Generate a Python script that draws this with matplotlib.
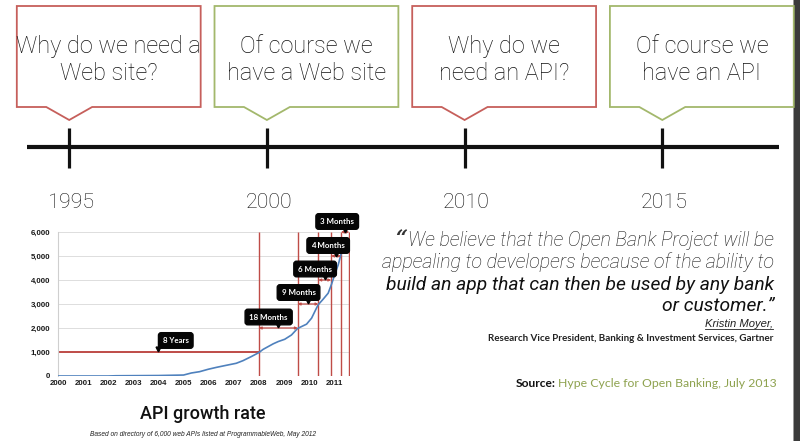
import matplotlib
matplotlib.use('Agg')
import matplotlib.pyplot as plt
from matplotlib.patches import Polygon, Rectangle
import warnings
warnings.filterwarnings('ignore')

# ---------------- data ----------------
era_years = ['1995', '2000', '2010', '2015']
era_line1 = ['Why do we need a', 'Of course we', 'Why do we', 'Of course we']
era_line2 = ['Web site?', 'have a Web site', 'need an API?', 'have an API']
era_kind = ['question', 'answer', 'question', 'answer']

api_years = [2000.0, 2002.0, 2002.3, 2004.0, 2005.0, 2005.31, 2005.64, 2005.98, 2006.31,
             2006.7, 2007.1, 2007.37, 2007.7, 2008.0, 2008.17, 2008.37, 2008.57, 2008.77,
             2009.03, 2009.3, 2009.54, 2009.7, 2009.9, 2010.1, 2010.23, 2010.36, 2010.56,
             2010.76, 2010.9, 2011.02, 2011.16, 2011.29, 2011.42, 2011.51]
api_counts = [0, 0, 10, 20, 40, 125, 180, 280, 360,
              445, 530, 640, 810, 975, 1110, 1225, 1340, 1435,
              1530, 1710, 1980, 2060, 2160, 2410, 2690, 2965, 3200,
              3450, 3840, 4220, 4630, 5150, 5375, 5610]

milestone_years = [2000.0, 2008.0, 2009.55, 2010.37, 2010.88, 2011.27, 2011.6]
milestone_levels = [1000, 2000, 3000, 4000, 5000, 6000]
milestone_labels = ['8 Years', '18 Months', '9 Months', '6 Months', '4 Months', '3 Months']
label_years = [2004.69, 2008.39, 2009.58, 2010.24, 2010.76, 2011.12]
label_values = [1480, 2458, 3479, 4458, 5438, 6438]

y_ticks = [0, 1000, 2000, 3000, 4000, 5000, 6000]
x_ticks = list(range(2000, 2012))

quote_lines = ['We believe that the Open Bank Project will be',
               'appealing to developers because of the ability to',
               'build an app that can then be used by any bank',
               'or customer.\u201d']
quote_author = 'Kristin Moyer,'
quote_role = 'Research Vice President, Banking & Investment Services, Gartner'
source_label = 'Source:'
source_text = 'Hype Cycle for Open Banking, July 2013'
chart_title = 'API growth rate'
chart_caption = 'Based on directory of 6,000 web APIs listed at ProgrammableWeb, May 2012'

# ---------------- style ----------------
RED = '#c65f5b'
GREEN = '#a3b86c'
LINE_RED = '#bf4c47'
BLUE = '#4f81bd'
SRC_GREEN = '#8ea24f'
LIGHT = ['Roboto', 'DejaVu Sans']
HUMAN = ['Lato', 'DejaVu Sans']
ARIAL = ['Liberation Sans', 'DejaVu Sans']

fig = plt.figure(figsize=(8, 4.41), dpi=100)
fig.patch.set_facecolor('white')
renderer = fig.canvas.get_renderer()


def fit(t, target_px):
    w = t.get_window_extent(renderer).width
    t.set_fontsize(t.get_fontsize() * target_px / w)
    return t


def fitted_size(text, target_px, **kw):
    probe = fig.text(0.5, 0.5, text, fontsize=10, **kw)
    w = probe.get_window_extent(renderer).width
    probe.remove()
    return 10 * target_px / w

# background axes in pixel coordinates
bg = fig.add_axes([0, 0, 1, 1])
bg.set_xlim(0, 800)
bg.set_ylim(441, 0)
bg.axis('off')

# dark border on the right
bg.add_patch(Rectangle((794, 0), 6, 441, facecolor='#3b3b3b', edgecolor='none'))
bg.add_patch(Rectangle((792.5, 0), 1.5, 441, facecolor='#9a9a9a', edgecolor='none'))

# ---------------- timeline ----------------
tl = fig.add_axes([0, 0, 1, 1])
tl.patch.set_alpha(0)
a, b = 69.2, 197.7
tl.set_xlim(-a / b, (800 - a) / b)
tl.set_ylim(441, 0)
tl.axis('off')

idx = list(range(len(era_years)))
tl.plot([-0.213, 3.59], [147, 147], color='#111111', lw=3.0, solid_capstyle='butt')
year_fs = fitted_size('1995', 47, family=LIGHT, fontweight='light')
for i in idx:
    tl.plot([i, i], [128, 168], color='#111111', lw=2.3, solid_capstyle='butt')
    tl.text(i + 0.01, 208, era_years[i], ha='center', va='baseline',
            fontsize=year_fs, family=LIGHT, fontweight='light', color='#111111')

half_w = 0.465
off = 0.2
box_fs = fitted_size('have a Web site', 160, family=LIGHT, fontweight='light')
for i in idx:
    c = i + off
    col = RED if era_kind[i] == 'question' else GREEN
    verts = [(c - half_w, 6), (c + half_w, 6), (c + half_w, 107), (i + 0.116, 107),
             (i, 120), (i - 0.116, 107), (c - half_w, 107)]
    tl.add_patch(Polygon(verts, closed=True, facecolor='white', edgecolor=col, lw=1.3))
    for yb, txt in ((53, era_line1[i]), (80, era_line2[i])):
        tl.text(c, yb, txt, ha='center', va='baseline', fontsize=box_fs,
                family=LIGHT, fontweight='light', color='#111111')

# ---------------- chart ----------------
x0p, x1p, y0p, y1p = 58, 350, 376, 232
ax = fig.add_axes([x0p / 800, (441 - y0p) / 441, (x1p - x0p) / 800, (y0p - y1p) / 441])
ax.patch.set_alpha(0)
ax.set_xlim(2000, 2011.63)
ax.set_ylim(0, 6000)
for s in ['top', 'right', 'bottom']:
    ax.spines[s].set_visible(False)
ax.spines['left'].set_color('#cfcfcf')
ax.spines['left'].set_linewidth(0.8)
tick_fs = fitted_size('2000', 17.5, family=ARIAL, fontweight='bold')
tick_kw = dict(fontsize=tick_fs, fontweight='bold', family=ARIAL, color='#1a1a1a')
ax.set_yticks(y_ticks)
ax.set_yticklabels([f'{v:,}' for v in y_ticks], **tick_kw)
ax.set_xticks(x_ticks)
ax.set_xticklabels([str(v) for v in x_ticks], **tick_kw)
ax.tick_params(axis='both', length=0)
ax.tick_params(axis='y', pad=5.5)
ax.tick_params(axis='x', pad=3.0)
ax.grid(axis='y', color='#dddddd', lw=0.7)
ax.set_axisbelow(True)

ax.plot(api_years, api_counts, color=BLUE, lw=1.2, zorder=3)
ax.vlines(milestone_years[1:], 0, 6000, color=LINE_RED, lw=1.0, zorder=2)
ax.plot([milestone_years[0], milestone_years[1]], [milestone_levels[0]] * 2,
        color=LINE_RED, lw=1.4, zorder=2)
for k in range(1, len(milestone_levels)):
    ax.annotate('', xy=(milestone_years[k + 1], milestone_levels[k]),
                xytext=(milestone_years[k], milestone_levels[k]),
                arrowprops=dict(arrowstyle='<|-|>', color=LINE_RED, lw=0.9,
                                shrinkA=0, shrinkB=0, mutation_scale=3.5),
                zorder=4, annotation_clip=False)
lab_fs = fitted_size('18 Months', 38, family=HUMAN, fontweight='bold')
for k, lab in enumerate(milestone_labels):
    ax.text(label_years[k], label_values[k], lab, ha='center', va='center',
            color='white', fontsize=lab_fs, fontweight='bold', family=HUMAN,
            bbox=dict(boxstyle='round,pad=0.55,rounding_size=0.35', fc='#050505', ec='#050505'),
            clip_on=False, zorder=6)
    mid = (milestone_years[k] + milestone_years[k + 1]) / 2
    ax.plot([mid], [label_values[k] - 350], marker='v', color='#050505', markersize=3.5,
            clip_on=False, zorder=6)

t = bg.text(203, 419, chart_title, ha='center', va='baseline', fontsize=14,
            family=LIGHT, fontweight='medium', color='#111111')
fit(t, 126)
t = bg.text(203, 436, chart_caption, ha='center', va='baseline', fontsize=4,
            style='italic', family=ARIAL, color='#222222')
fit(t, 223)

# ---------------- quote ----------------
qy = [246, 268, 290, 311]
qweights = ['light', 'light', 'normal', 'normal']
q_fs = fitted_size(quote_lines[1], 392, style='italic', fontweight='light', family=LIGHT)
q_fs_bold = fitted_size(quote_lines[2], 387, style='italic', fontweight='normal', family=LIGHT)
qtexts = []
for k, line in enumerate(quote_lines):
    fs = q_fs if qweights[k] == 'light' else q_fs_bold
    qtexts.append(bg.text(774, qy[k], line, ha='right', va='baseline', fontsize=fs,
                          style='italic', fontweight=qweights[k], family=LIGHT,
                          color='#111111'))
bg.annotate('\u201c', xy=(0, 1), xycoords=qtexts[0], xytext=(-1, 2),
            textcoords='offset points', ha='right', va='top', fontsize=15,
            fontweight='bold', style='italic', family=['DejaVu Serif'], color='#333333')

t = bg.text(773, 327, quote_author, ha='right', va='baseline', fontsize=7,
            style='italic', family=ARIAL, color='#222222')
fit(t, 68)
ext = t.get_window_extent(renderer)
inv = bg.transData.inverted()
(ux0, _), (ux1, _) = inv.transform([(ext.x0, 0), (ext.x1, 0)])
bg.plot([ux0, ux1], [329, 329], color='#222222', lw=0.6)

t = bg.text(773, 341, quote_role, ha='right', va='baseline', fontsize=7,
            fontweight='bold', family=HUMAN, color='#222222')
fit(t, 289)

src = bg.text(777, 387, source_text, ha='right', va='baseline', fontsize=9,
              family=HUMAN, color=SRC_GREEN)
fit(src, 219)
slab = bg.text(556, 387, source_label, ha='right', va='baseline', fontsize=9,
               fontweight='bold', family=HUMAN, color='#111111')
fit(slab, 40)

fig.savefig('out.png', dpi=100, facecolor='white')
